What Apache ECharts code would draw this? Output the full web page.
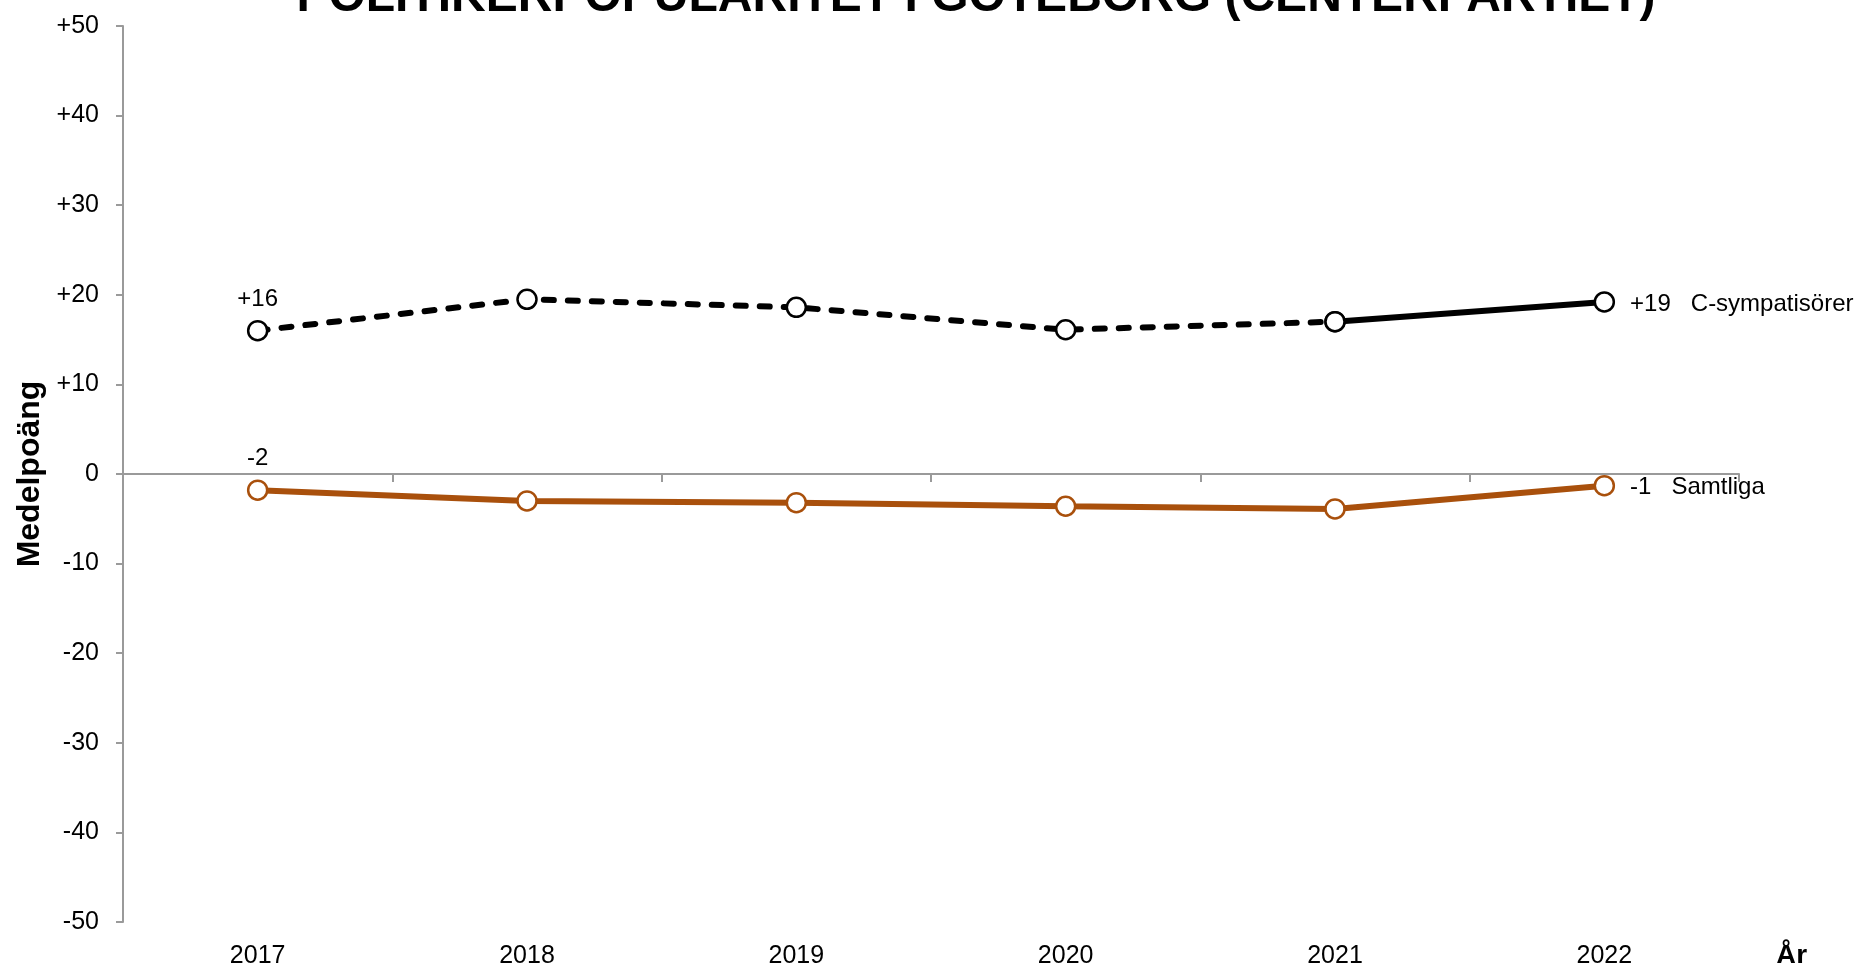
<!DOCTYPE html>
<html>
<head>
<meta charset="utf-8">
<script src="https://cdn.jsdelivr.net/npm/echarts@6/dist/echarts.min.js"></script>
<style>
  html, body { margin: 0; padding: 0; background: #fff; }
  #main { width: 1858px; height: 963px; }
</style>
</head>
<body>
<div id="main"></div>
<script>
// data
const years = ['2017', '2018', '2019', '2020', '2021', '2022']
const cSymp = [16.0, 19.5, 18.6, 16.1, 17.0, 19.2]
const samtliga = [-1.8, -3.0, -3.2, -3.6, -3.9, -1.3]
const solidFrom = 4 // C-sympatisörer: solid line from 2021 on
const yTicks = [-50, -40, -30, -20, -10, 0, 10, 20, 30, 40, 50]

const FONT = '"Liberation Sans", Arial, sans-serif'
const BLACK = '#000000'
const ORANGE = '#a9500c'
const GREY = '#9a9a9a'

function fmt(v) {
  const r = Math.round(v)
  return (r > 0 ? '+' : '') + r
}

const last = years.length - 1

// label for first point (above) and last point (right, with series name)
function pointLabels(values, name, i) {
  if (i === 0) {
    return {
      show: true,
      position: 'top',
      distance: 9,
      formatter: fmt(values[i]),
      color: BLACK,
      fontSize: 24,
      fontFamily: FONT
    }
  }
  if (i === last) {
    return {
      show: true,
      position: 'right',
      distance: 15,
      formatter: '{v|' + fmt(values[i]) + '}{n|' + name + '}',
      rich: {
        v: { color: BLACK, fontSize: 24, fontFamily: FONT, padding: [4, 0, 0, 0] },
        n: { color: BLACK, fontSize: 24, fontFamily: FONT, padding: [4, 0, 0, 20] }
      }
    }
  }
  return null
}

function buildData(values, name, keep) {
  return values.map((v, i) => {
    if (!keep(i)) return '-'
    const lab = pointLabels(values, name, i)
    return lab ? { value: v, label: lab } : v
  })
}

const myChart = echarts.init(document.getElementById('main'), null, { renderer: 'canvas' })

const option = {
  backgroundColor: '#ffffff',
  animation: false,
  textStyle: { fontFamily: FONT },
  graphic: [
    {
      type: 'text',
      x: 976,
      y: 22,
      style: {
        text: 'POLITIKERPOPULARITET I GÖTEBORG (CENTERPARTIET)',
        fill: BLACK,
        font: 'bold 48px ' + FONT,
        textAlign: 'center',
        textVerticalAlign: 'bottom'
      }
    }
  ],
  grid: {
    left: 123,
    right: 119,
    top: 26,
    bottom: 41,
    containLabel: false,
    outerBoundsMode: 'none'
  },
  xAxis: [
    {
      // axis line drawn through zero
      type: 'category',
      data: years,
      boundaryGap: true,
      axisLine: {
        show: true,
        onZero: true,
        lineStyle: { color: GREY, width: 2 }
      },
      axisTick: {
        show: true,
        length: 8,
        lineStyle: { color: GREY, width: 2 }
      },
      axisLabel: { show: false },
      splitLine: { show: false }
    },
    {
      // labels at the bottom
      type: 'category',
      data: years,
      position: 'bottom',
      offset: 34,
      axisLine: { show: false, onZero: false },
      axisTick: { show: false },
      axisLabel: {
        show: true,
        margin: 0,
        verticalAlign: 'middle',
        color: BLACK,
        fontSize: 25,
        fontFamily: FONT
      },
      name: 'År',
      nameLocation: 'end',
      nameGap: 37,
      nameTextStyle: {
        color: BLACK,
        fontSize: 28,
        fontWeight: 'bold',
        fontFamily: FONT,
        verticalAlign: 'middle'
      },
      splitLine: { show: false }
    }
  ],
  yAxis: {
    type: 'value',
    min: yTicks[0],
    max: yTicks[yTicks.length - 1],
    interval: 10,
    name: 'Medelpoäng',
    nameLocation: 'middle',
    nameGap: 77,
    nameTextStyle: {
      color: BLACK,
      fontSize: 32,
      fontWeight: 'bold',
      fontFamily: FONT
    },
    axisLine: {
      show: true,
      lineStyle: { color: GREY, width: 2 }
    },
    axisTick: {
      show: true,
      length: 7,
      lineStyle: { color: GREY, width: 2 }
    },
    axisLabel: {
      margin: 24,
      color: BLACK,
      fontSize: 25,
      fontFamily: FONT,
      formatter: function (v) {
        return v > 0 ? '+' + v : String(v)
      }
    },
    splitLine: { show: false }
  },
  series: [
    {
      name: 'Samtliga',
      type: 'line',
      xAxisIndex: 0,
      data: buildData(samtliga, 'Samtliga', () => true),
      symbol: 'circle',
      symbolSize: 19,
      showAllSymbol: true,
      lineStyle: { color: ORANGE, width: 6 },
      itemStyle: { color: '#ffffff', borderColor: ORANGE, borderWidth: 2.5 },
      z: 3
    },
    {
      name: 'C-sympatisörer',
      type: 'line',
      xAxisIndex: 0,
      data: buildData(cSymp, 'C-sympatisörer', i => i <= solidFrom),
      symbol: 'circle',
      symbolSize: 19,
      showAllSymbol: true,
      lineStyle: {
        color: BLACK,
        width: 6,
        type: [10, 14],
        cap: 'round'
      },
      itemStyle: { color: '#ffffff', borderColor: BLACK, borderWidth: 2.5 },
      z: 4
    },
    {
      name: 'C-sympatisörer',
      type: 'line',
      xAxisIndex: 0,
      data: buildData(cSymp, 'C-sympatisörer', i => i >= solidFrom),
      symbol: 'circle',
      symbolSize: 19,
      showAllSymbol: true,
      lineStyle: { color: BLACK, width: 6 },
      itemStyle: { color: '#ffffff', borderColor: BLACK, borderWidth: 2.5 },
      z: 5
    }
  ]
}

myChart.setOption(option)
</script>
</body>
</html>
